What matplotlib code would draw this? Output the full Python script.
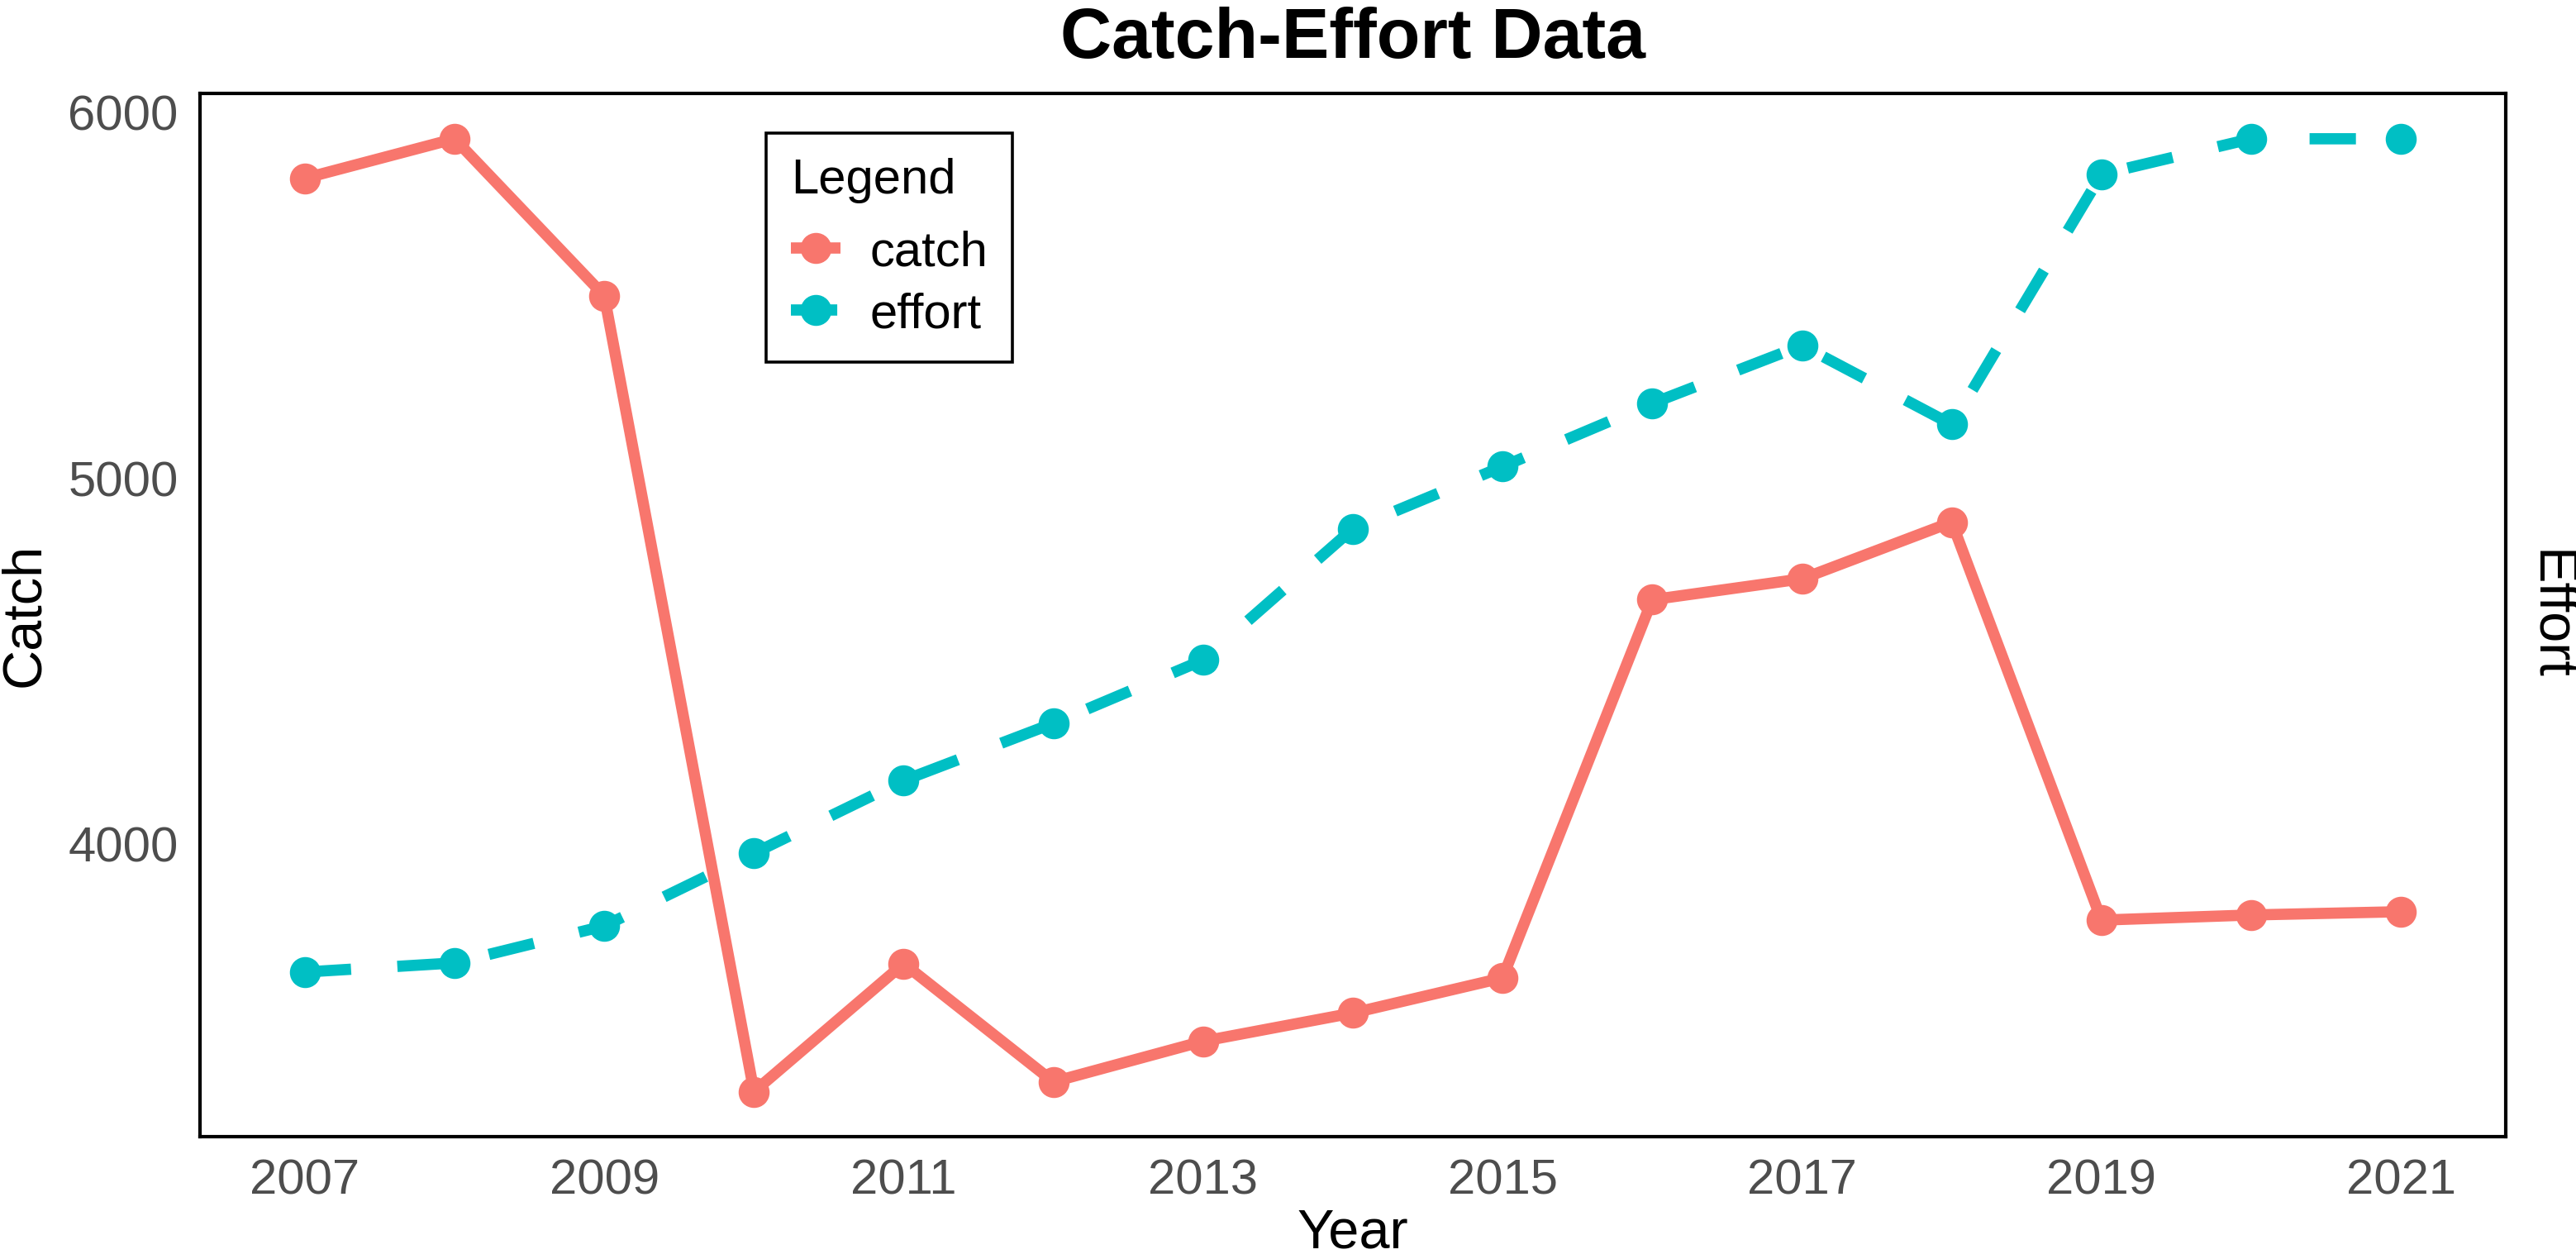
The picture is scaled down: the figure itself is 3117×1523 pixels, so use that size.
import matplotlib
matplotlib.use("Agg")
import matplotlib.pyplot as plt

# ---- data ----
years = list(range(2007, 2022))
catch = [5820, 5928, 5499, 3323, 3673, 3350, 3461, 3538, 3634, 4668, 4725, 4880, 3792, 3806, 3815]
effort = [3650, 3675, 3776, 3975, 4174, 4330, 4503, 4862, 5032, 5205, 5363, 5147, 5831, 5928, 5928]
x_ticks = [2007, 2009, 2011, 2013, 2015, 2017, 2019, 2021]
y_ticks = [4000, 5000, 6000]
series_names = ["catch", "effort"]

plt.rcParams['font.family'] = ['Liberation Sans', 'DejaVu Sans']

W, H = 3117, 1523
fig = plt.figure(figsize=(W / 100, H / 100), dpi=100)
L, R, T, B = 242, 3032, 113, 1375
ax = fig.add_axes([L / W, 1 - B / H, (R - L) / W, (B - T) / H])

ax.plot(years, catch, color='#F8766D', lw=9.8, marker='o', ms=26,
        solid_joinstyle='round', solid_capstyle='butt', label=series_names[0], zorder=3)
ax.plot(years, effort, color='#00BFC4', lw=9.8, ls=(0, (4.12, 4.12)), marker='o', ms=26,
        dash_capstyle='butt', label=series_names[1], zorder=3)

ax.set_xlim(2006.3, 2021.7)
ax.set_ylim(3200, 6052)
ax.set_xticks(x_ticks)
ax.set_xticklabels([str(t) for t in x_ticks])
ax.set_yticks(y_ticks)
ax.set_yticklabels([str(t) for t in y_ticks])
ax.tick_params(axis='both', length=0, labelsize=43, labelcolor='#4D4D4D', pad=19)

for s in ax.spines.values():
    s.set_color('black')
    s.set_linewidth(3.0)

leg = ax.legend(title='Legend', loc='upper left', bbox_to_anchor=(0.2455, 0.962),
                borderaxespad=0, fontsize=43, title_fontsize=43, frameon=True,
                fancybox=False, edgecolor='black', framealpha=1, handlelength=1.0,
                handletextpad=0.6, borderpad=0.5, labelspacing=0.335, alignment='left')
leg.get_frame().set_linewidth(2.6)
leg._legend_box.sep = 23.2

fig.text((L + R) / 2 / W, 1 - 70 / H, 'Catch-Effort Data', ha='center', va='baseline',
         fontsize=62, fontweight='bold', color='black')
fig.text((L + R) / 2 / W, 1 - 1492 / H, 'Year', ha='center', va='center',
         fontsize=48, color='black')
fig.text(30 / W, 1 - (T + B) / 2 / H, 'Catch', ha='center', va='center', rotation=90,
         fontsize=48, color='black')
fig.text(3085 / W, 1 - (T + B) / 2 / H, 'Effort', ha='center', va='center', rotation=-90,
         fontsize=48, color='black')

fig.savefig('out.png', dpi=100, facecolor='white')
